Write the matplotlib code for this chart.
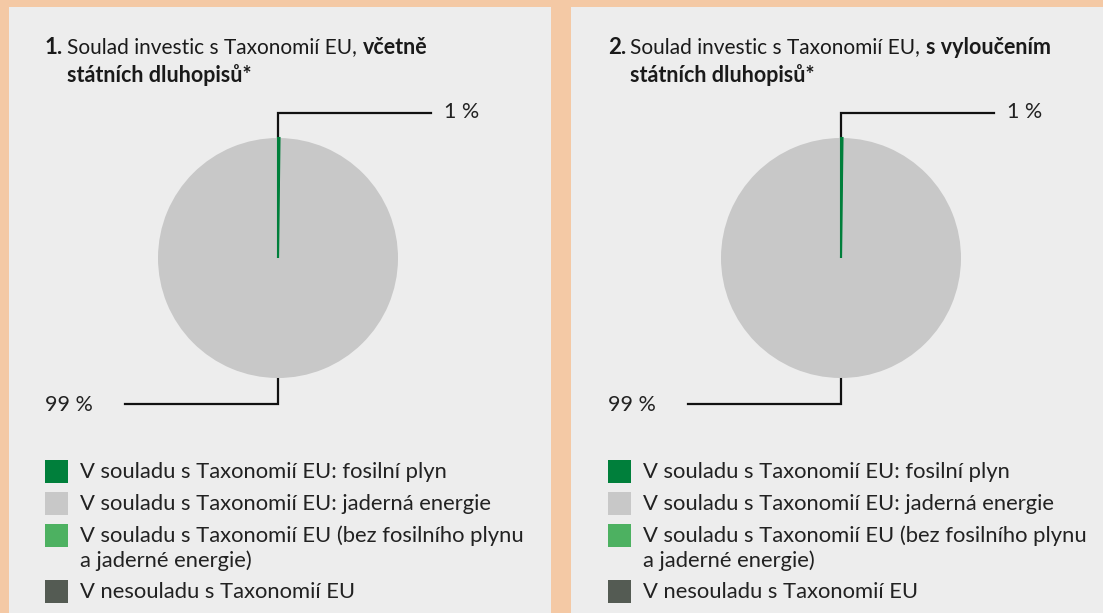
import matplotlib
matplotlib.use("Agg")
import matplotlib.pyplot as plt
from matplotlib.patches import Rectangle

W, H = 1103, 613
DPI = 100

PEACH = "#f4c9a5"
PANEL = "#ededed"
INK = "#1a1a1a"
FONT = "Lato"
FS = 15.5

panel_numbers = ["1.", "2."]
title_light = "Soulad investic s Taxonomií EU,"
title_bold = ["včetně", "s vyloučením"]
title_line2 = "státních dluhopisů*"

# drawn shares; the green slice is only a hairline in the source
slice_values = [[0.2, 99.8], [0.2, 99.8]]
slice_colors = ["#007f3b", "#c8c8c8"]
slice_labels = [["1 %", "99 %"], ["1 %", "99 %"]]

legend_labels = [
    "V souladu s Taxonomií EU: fosilní plyn",
    "V souladu s Taxonomií EU: jaderná energie",
    "V souladu s Taxonomií EU (bez fosilního plynu\na jaderné energie)",
    "V nesouladu s Taxonomií EU",
]
legend_colors = ["#007f3b", "#c8c8c8", "#4db161", "#545b53"]

fig = plt.figure(figsize=(W / DPI, H / DPI), dpi=DPI, facecolor=PEACH)
ax = fig.add_axes([0, 0, 1, 1])
ax.set_xlim(0, W)
ax.set_ylim(H, 0)
ax.axis("off")

ax.add_patch(Rectangle((9, 7), 542, H, color=PANEL, lw=0))
ax.add_patch(Rectangle((571, 7), W - 571, H, color=PANEL, lw=0))

for i, dx in enumerate([0, 563]):
    # title, light and bold pieces chained one after another
    num = ax.text(45 + dx, 47, panel_numbers[i], fontfamily=FONT, fontweight="bold",
                  fontsize=FS + 0.5, color=INK, va="center")
    light = ax.annotate(title_light, xy=(1, 0.5), xycoords=num, xytext=(4, 0),
                        textcoords="offset pixels", fontfamily=FONT, fontweight="normal",
                        fontsize=FS - 0.5, color=INK, va="center")
    ax.annotate(title_bold[i], xy=(1, 0.5), xycoords=light, xytext=(6, 0),
                textcoords="offset pixels", fontfamily=FONT, fontweight="bold",
                fontsize=FS, color=INK, va="center")
    ax.annotate(title_line2, xy=(0, 0.5), xycoords=light, xytext=(0, -28),
                textcoords="offset pixels", fontfamily=FONT, fontweight="bold",
                fontsize=FS, color=INK, va="center")

    # pie
    cx, cy, r = 278 + dx, 258, 120
    pax = fig.add_axes([(cx - r) / W, (H - cy - r) / H, 2 * r / W, 2 * r / H])
    wedges, _ = pax.pie(slice_values[i], colors=slice_colors, startangle=90,
                        counterclock=False, radius=1)
    wedges[0].set_edgecolor(slice_colors[0])
    wedges[0].set_linewidth(1.5)
    wedges[0].set_zorder(5)
    pax.set_xlim(-1, 1)
    pax.set_ylim(-1, 1)
    pax.axis("off")

    # leader lines and labels
    ax.plot([cx, cx, cx + 153], [cy - r, cy - r - 25, cy - r - 25], color="#111111",
            lw=1.6, solid_joinstyle="miter")
    ax.text(cx + 166, cy - r - 26, slice_labels[i][0], fontfamily=FONT, fontweight="normal",
            fontsize=FS, color="#222222", va="center")
    ax.plot([cx, cx, cx - 153], [cy + r, cy + r + 26, cy + r + 26], color="#111111",
            lw=1.6, solid_joinstyle="miter")
    ax.text(45 + dx, cy + r + 27, slice_labels[i][1], fontfamily=FONT, fontweight="normal",
            fontsize=FS, color="#222222", va="center")

    # legend
    y = 460
    for label, col in zip(legend_labels, legend_colors):
        ax.add_patch(Rectangle((45 + dx, y), 23, 23, color=col, lw=0))
        lines = label.split("\n")
        for k, line in enumerate(lines):
            ax.text(80 + dx, y + 12 + 25 * k, line, fontfamily=FONT, fontweight="normal",
                    fontsize=FS + 0.3, color="#222222", va="center")
        y += 32 + 24 * (len(lines) - 1)

fig.savefig("out.png", dpi=DPI, facecolor=PEACH)
